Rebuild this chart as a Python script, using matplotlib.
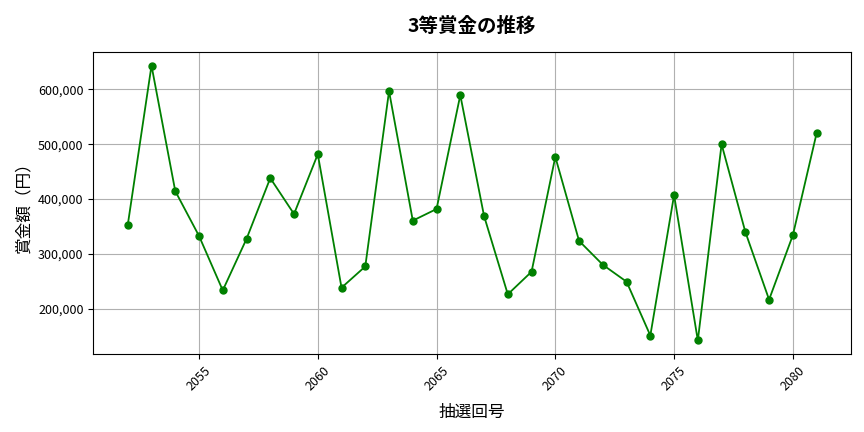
import matplotlib
matplotlib.use("Agg")
import matplotlib.pyplot as plt
from matplotlib.ticker import FuncFormatter

plt.rcParams['font.family'] = ['Noto Sans CJK JP', 'DejaVu Sans']

draws = list(range(2052, 2082))
prizes = [
    352700, 643600, 414500, 332700, 233300, 327300, 438200, 372700, 481800, 238200,
    277000, 597000, 360600, 381800, 589700, 369100, 226100, 267300, 477000, 323600,
    280000, 249100, 150900, 407300, 141800, 500000, 340000, 216400, 333900, 520000,
]

fig, ax = plt.subplots(figsize=(8.64, 4.32), dpi=100)
ax.plot(draws, prizes, marker='o', color='green', markersize=5, linewidth=1.3)
ax.set_title('3等賞金の推移', fontsize=14, fontweight='bold', pad=14)
ax.set_xlabel('抽選回号', fontsize=12, labelpad=8)
ax.set_ylabel('賞金額（円）', fontsize=12)
ax.yaxis.set_major_formatter(FuncFormatter(lambda v, p: f'{int(v):,}'))
ax.tick_params(axis='x', rotation=45, labelsize=9)
ax.tick_params(axis='y', labelsize=9)
ax.grid(True, color='#b0b0b0', linewidth=0.8)
fig.subplots_adjust(left=0.108, right=0.985, top=0.88, bottom=0.18)
fig.savefig('out.png')
